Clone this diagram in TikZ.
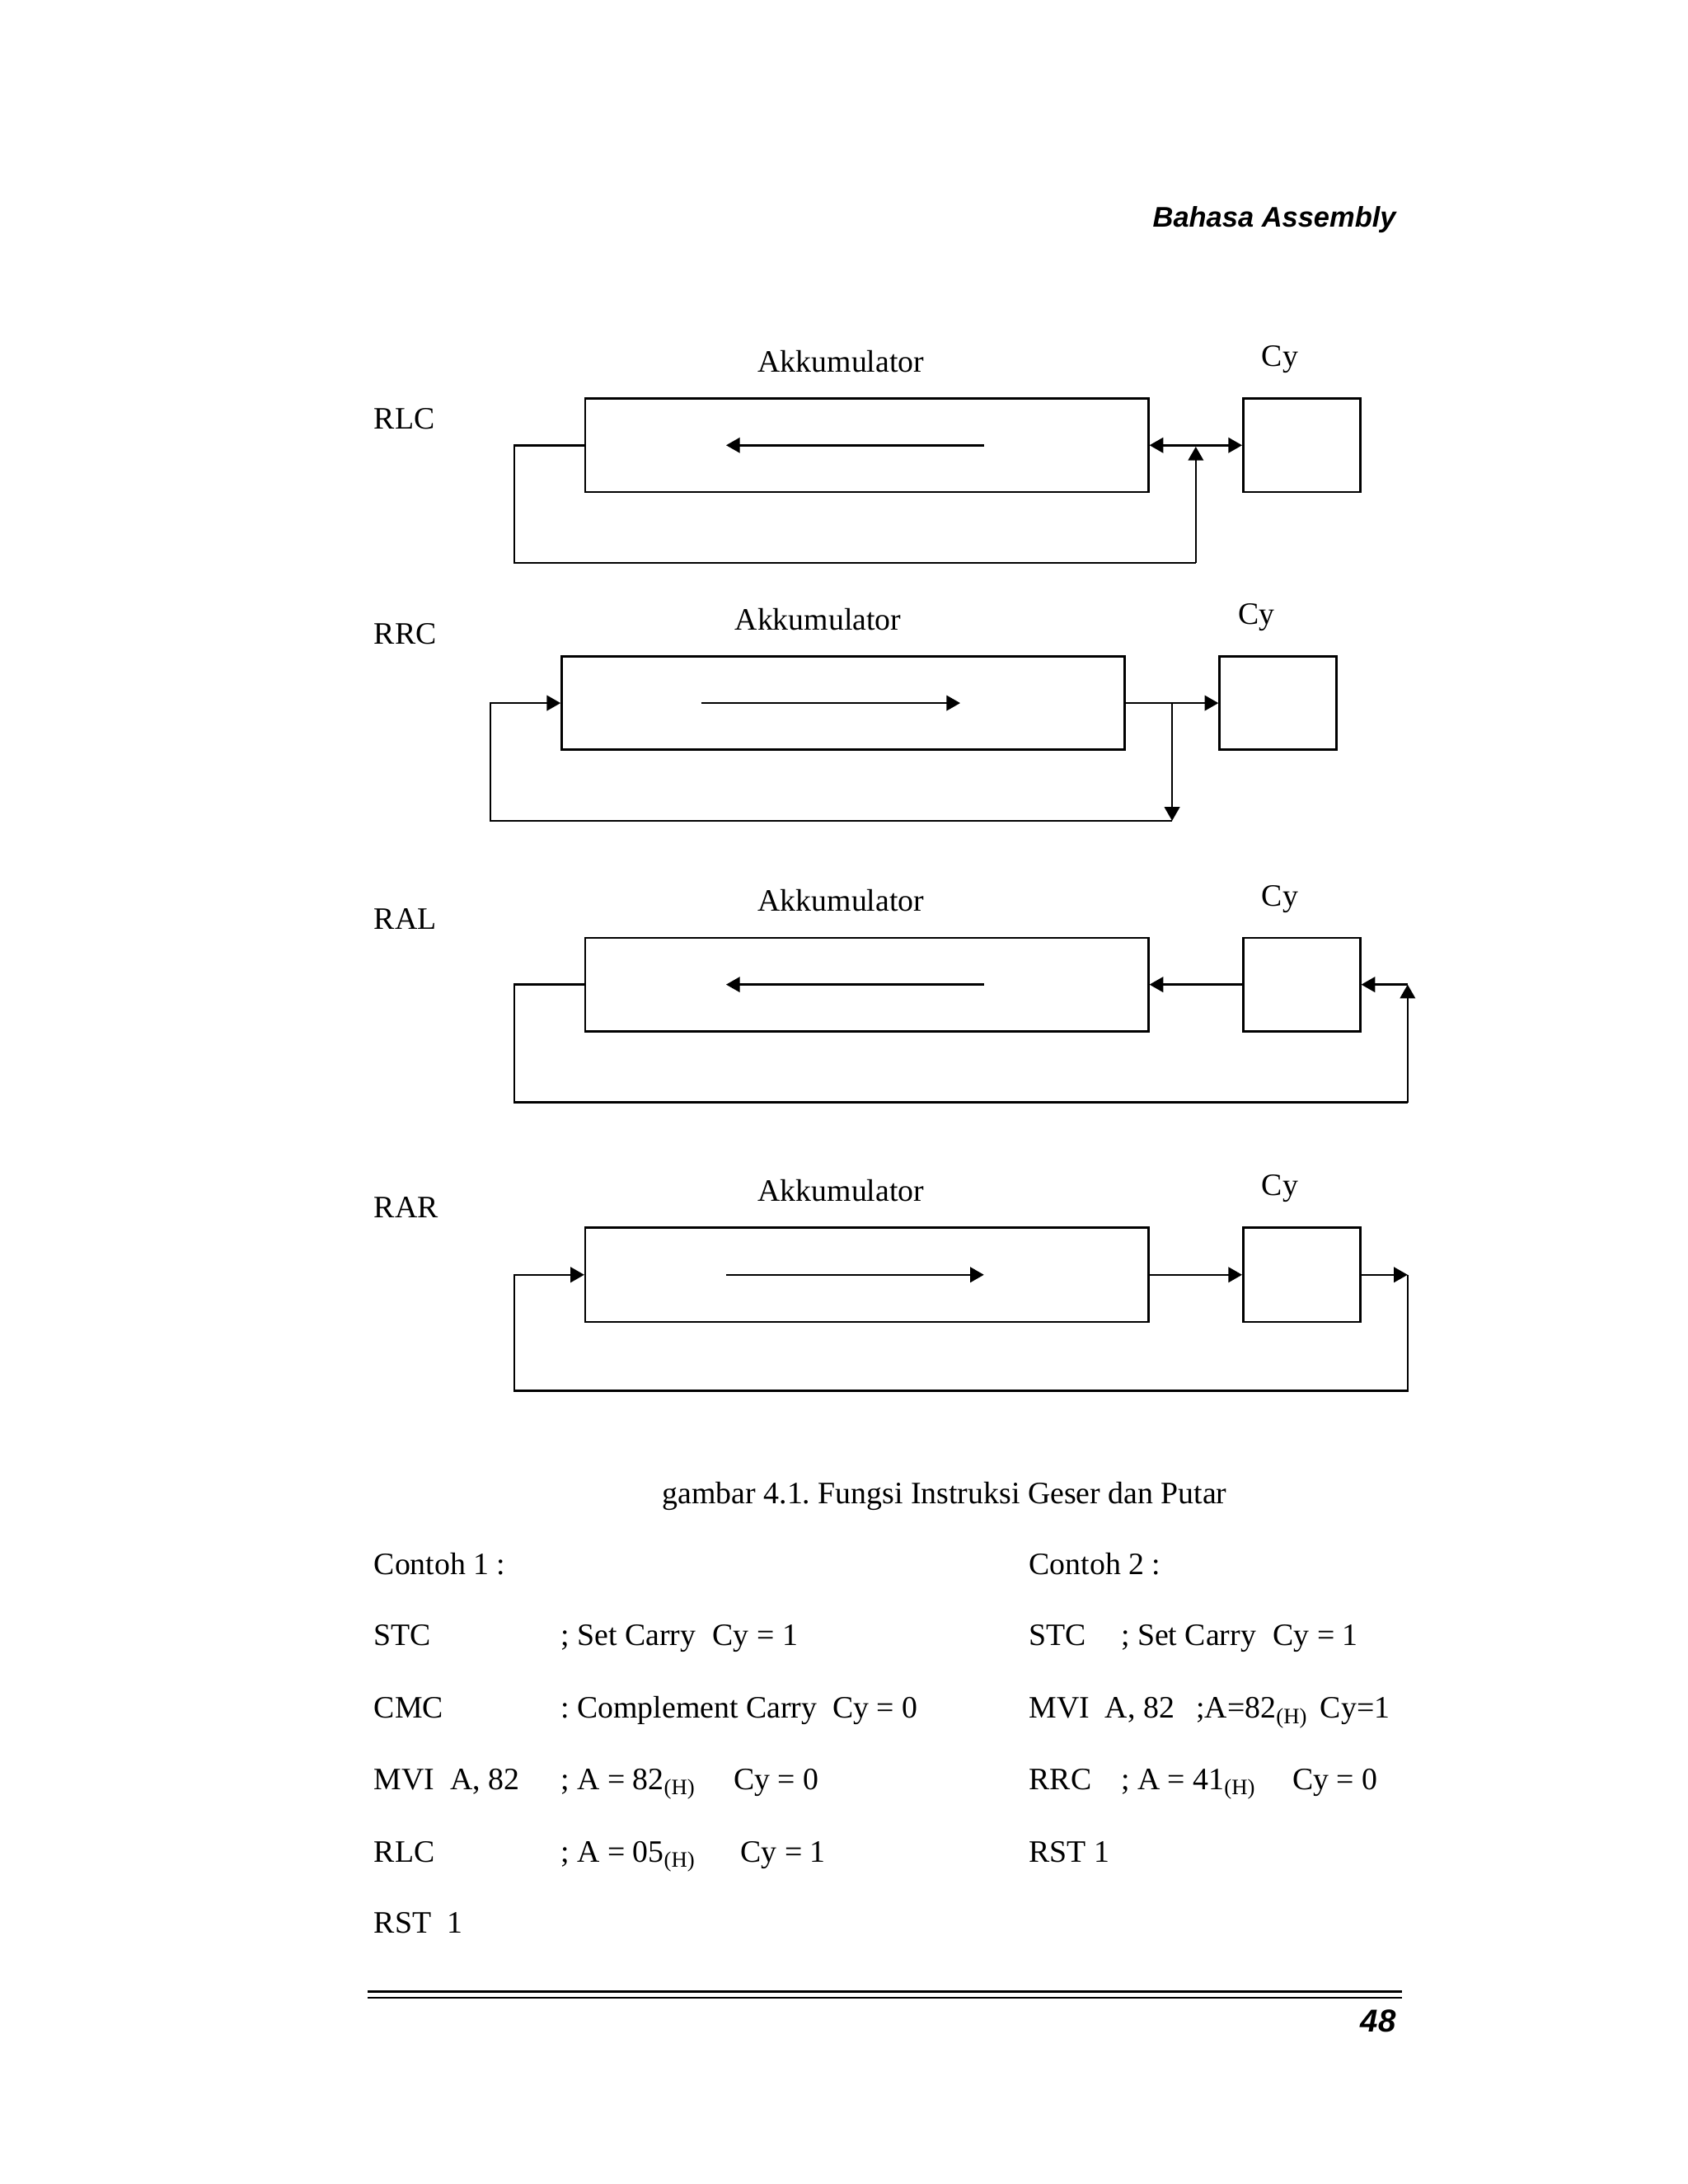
\documentclass[tikz,border=0pt]{standalone}
\usepackage{fontspec}
\setmainfont{Liberation Serif}
\newfontfamily\hdrfont{Liberation Sans}
\usetikzlibrary{arrows.meta,fit}
\frenchspacing
\newcommand\bodyfont{\fontsize{11.3}{13.5}\selectfont}
\newcommand\subH{\raisebox{-2pt}{\fontsize{8}{8}\selectfont (H)}}
\tikzset{
  ln/.style={line width=0.75pt, line join=miter},
  arr/.style={ln, -{Triangle[length=5pt,width=5.5pt]}},
  arrboth/.style={ln, {Triangle[length=5pt,width=5.5pt]}-{Triangle[length=5pt,width=5.5pt]}},
  regbox/.style={draw, line width=0.75pt, inner sep=0pt},
  lbl/.style={inner sep=0pt, anchor=base west, font=\bodyfont},
  ctr/.style={inner sep=0pt, anchor=base, font=\bodyfont},
}
\begin{document}
\begin{tikzpicture}[x=0.50537pt, y=-0.50537pt]
\useasboundingbox (0,0) rectangle (1211,1567.2);
\fill[white] (0,0) rectangle (1211,1567.2);

% header
\node[inner sep=0pt, anchor=base east, font=\hdrfont\fontsize{10.3}{12}\selectfont\bfseries\itshape] (hdr) at (1002,163) {Bahasa Assembly};

% ---------- RLC ----------
\node[lbl] (rlc) at (268,308) {RLC};
\node[ctr] (ak1) at (603.5,267) {Akkumulator};
\node[lbl] (cyl1) at (905,263) {Cy};
\coordinate (acc1a) at (420,286); \coordinate (acc1b) at (824,353);
\coordinate (cy1a) at (892,286); \coordinate (cy1b) at (976,353);
\node[regbox, fit={(acc1a) (acc1b)}] (acc1) {};
\node[regbox, fit={(cy1a) (cy1b)}] (cy1) {};
\coordinate (i1s) at (706,319.5); \coordinate (i1e) at (521,319.5);
\draw[arr] (i1s) -- (i1e);
\draw[arrboth] (acc1.east) -- (cy1.west);
\coordinate (l1) at (369,404); \coordinate (r1) at (858,404); \coordinate (t1) at (858,320.5);
\draw[ln] (acc1.west) -| (l1) -- (r1);
\draw[arr] (r1) -- (t1);

% ---------- RRC ----------
\node[lbl] (rrc) at (268,462) {RRC};
\node[ctr] (ak2) at (587,452) {Akkumulator};
\node[lbl] (cyl2) at (888,448) {Cy};
\coordinate (acc2a) at (403,471); \coordinate (acc2b) at (807,538);
\coordinate (cy2a) at (875,471); \coordinate (cy2b) at (959,538);
\node[regbox, fit={(acc2a) (acc2b)}] (acc2) {};
\node[regbox, fit={(cy2a) (cy2b)}] (cy2) {};
\coordinate (i2s) at (503,504.5); \coordinate (i2e) at (689,504.5);
\draw[arr] (i2s) -- (i2e);
\draw[arr] (acc2.east) -- (cy2.west);
\coordinate (j2) at (841,504.5); \coordinate (b2) at (841,589); \coordinate (l2) at (352,589);
\draw[arr] (j2) -- (b2);
\draw[arr] (b2) -- (l2) |- (acc2.west);

% ---------- RAL ----------
\node[lbl] (ral) at (268,667) {RAL};
\node[ctr] (ak3) at (603.5,654) {Akkumulator};
\node[lbl] (cyl3) at (905,650) {Cy};
\coordinate (acc3a) at (420,673); \coordinate (acc3b) at (824,740);
\coordinate (cy3a) at (892,673); \coordinate (cy3b) at (976,740);
\node[regbox, fit={(acc3a) (acc3b)}] (acc3) {};
\node[regbox, fit={(cy3a) (cy3b)}] (cy3) {};
\coordinate (i3s) at (706,706.5); \coordinate (i3e) at (521,706.5);
\draw[arr] (i3s) -- (i3e);
\draw[arr] (cy3.west) -- (acc3.east);
\coordinate (l3) at (369,791); \coordinate (r3b) at (1010,791); \coordinate (r3t) at (1010,706.5);
\draw[ln] (acc3.west) -| (l3) -- (r3b);
\draw[arr] (r3b) -- (r3t);
\draw[arr] (r3t) -- (cy3.east);

% ---------- RAR ----------
\node[lbl] (rar) at (268,874) {RAR};
\node[ctr] (ak4) at (603.5,862) {Akkumulator};
\node[lbl] (cyl4) at (905,858) {Cy};
\coordinate (acc4a) at (420,881); \coordinate (acc4b) at (824,948.5);
\coordinate (cy4a) at (892,881); \coordinate (cy4b) at (976,948.5);
\node[regbox, fit={(acc4a) (acc4b)}] (acc4) {};
\node[regbox, fit={(cy4a) (cy4b)}] (cy4) {};
\coordinate (i4s) at (521,914.75); \coordinate (i4e) at (706,914.75);
\draw[arr] (i4s) -- (i4e);
\draw[arr] (acc4.east) -- (cy4.west);
\coordinate (r4t) at (1010,914.75); \coordinate (r4b) at (1010,998); \coordinate (l4) at (369,998);
\draw[arr] (cy4.east) -- (r4t);
\draw[arr] (r4t) -- (r4b) -- (l4) |- (acc4.west);

% caption
\node[lbl] (cap) at (475,1079) {gambar 4.1. Fungsi Instruksi Geser dan Putar};

% Contoh 1
\node[lbl] (c1) at (268,1130) {Contoh 1 :};
\node[lbl] (c1r1a) at (268,1181) {STC};
\node[lbl] (c1r1b) at (402,1181) {; Set Carry};
\node[lbl] (c1r1c) at (511,1181) {Cy = 1};
\node[lbl] (c1r2a) at (268,1233) {CMC};
\node[lbl] (c1r2b) at (402,1233) {: Complement Carry};
\node[lbl] (c1r2c) at (597,1233) {Cy = 0};
\node[lbl] (c1r3a) at (268,1284) {MVI\ \ A, 82};
\node[lbl] (c1r3b) at (402,1284) {; A = 82\subH};
\node[lbl] (c1r3c) at (526,1284) {Cy = 0};
\node[lbl] (c1r4a) at (268,1336) {RLC};
\node[lbl] (c1r4b) at (402,1336) {; A = 05\subH};
\node[lbl] (c1r4c) at (531,1336) {Cy = 1};
\node[lbl] (c1r5a) at (268,1387) {RST\ \ 1};

% Contoh 2
\node[lbl] (c2) at (738,1130) {Contoh 2 :};
\node[lbl] (c2r1a) at (738,1181) {STC};
\node[lbl] (c2r1b) at (804,1181) {; Set Carry};
\node[lbl] (c2r1c) at (913,1181) {Cy = 1};
\node[lbl] (c2r2a) at (738,1233) {MVI\ \ A, 82};
\node[lbl] (c2r2b) at (858,1233) {;A=82\subH};
\node[lbl] (c2r2c) at (947,1233) {Cy=1};
\node[lbl] (c2r3a) at (738,1284) {RRC};
\node[lbl] (c2r3b) at (804,1284) {; A = 41\subH};
\node[lbl] (c2r3c) at (927,1284) {Cy = 0};
\node[lbl] (c2r4a) at (738,1336) {RST 1};

% footer
\coordinate (fl1a) at (264,1429); \coordinate (fl1b) at (1006,1429);
\coordinate (fl2a) at (264,1433.5); \coordinate (fl2b) at (1006,1433.5);
\draw[line width=1.1pt] (fl1a) -- (fl1b);
\draw[line width=0.7pt] (fl2a) -- (fl2b);
\node[inner sep=0pt, anchor=base east, font=\hdrfont\fontsize{11.5}{13}\selectfont\bfseries\itshape] (pg) at (1002,1458) {48};
\end{tikzpicture}
\end{document}
